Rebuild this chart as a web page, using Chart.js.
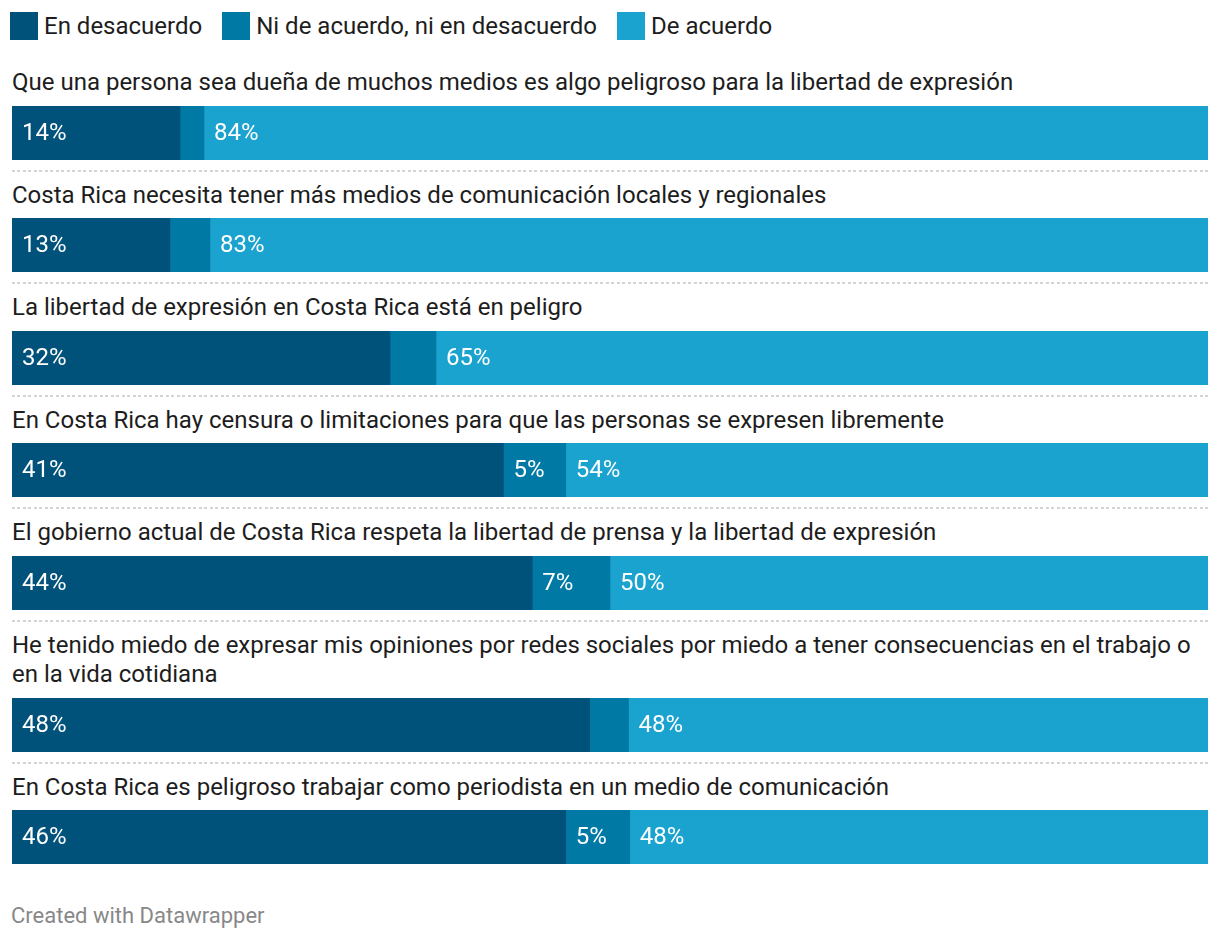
<!DOCTYPE html>
<html>
<head>
<meta charset="utf-8">
<script src="https://cdn.jsdelivr.net/npm/chart.js@4.4.1/dist/chart.umd.min.js"></script>
<style>
  html, body { margin: 0; padding: 0; background: #fff; }
  body { width: 1220px; height: 942px; font-family: Roboto, "Noto Sans", sans-serif; color: #1d1d1d; position: relative; overflow: hidden; }
  #legend { position: absolute; left: 10px; top: 12px; display: flex; align-items: center; font-size: 24px; line-height: 28px; }
  .lg { display: flex; align-items: center; margin-right: 20px; }
  .sw { width: 28px; height: 28px; margin-right: 6px; }
  #rows { position: absolute; left: 12px; top: 68px; width: 1196px; }
  .label { font-size: 24px; line-height: 29.5px; margin-bottom: 8px; white-space: normal; }
  .bar { width: 1196px; height: 54px; position: relative; }
  .sep { margin-top: 10px; height: 2px; margin-bottom: 9px; background: repeating-linear-gradient(to right, #d4d4d4 0 3px, transparent 3px 5.5px); }
  #footer { position: absolute; left: 11px; top: 903px; font-size: 22px; color: #888; }
</style>
</head>
<body>
<div id="legend"></div>
<div id="rows"></div>
<div id="footer">Created with Datawrapper</div>
<script>
const categories = [
  "Que una persona sea dueña de muchos medios es algo peligroso para la libertad de expresión",
  "Costa Rica necesita tener más medios de comunicación locales y regionales",
  "La libertad de expresión en Costa Rica está en peligro",
  "En Costa Rica hay censura o limitaciones para que las personas se expresen libremente",
  "El gobierno actual de Costa Rica respeta la libertad de prensa y la libertad de expresión",
  "He tenido miedo de expresar mis opiniones por redes sociales por miedo a tener consecuencias en el trabajo o en la vida cotidiana",
  "En Costa Rica es peligroso trabajar como periodista en un medio de comunicación"
];
const seriesNames = ["En desacuerdo", "Ni de acuerdo, ni en desacuerdo", "De acuerdo"];
const enDesacuerdo = [14.05, 13.2, 31.6, 41.1, 43.5, 48.3, 46.3];
const niNi        = [2.0, 3.35, 3.85, 5.2, 6.5, 3.25, 5.35];
const deAcuerdo   = [83.95, 83.45, 64.55, 53.7, 50.0, 48.45, 48.35];
const colors = ["#00527a", "#0079a4", "#1aa3cf"];
const series = [enDesacuerdo, niNi, deAcuerdo];

// Legend
const lg = document.getElementById('legend');
seriesNames.forEach((n, i) => {
  const d = document.createElement('div'); d.className = 'lg';
  d.innerHTML = '<div class="sw" style="background:' + colors[i] + '"></div><span>' + n + '</span>';
  lg.appendChild(d);
});

const labelPlugin = {
  id: 'valueLabels',
  afterDatasetsDraw(chart) {
    const ctx = chart.ctx;
    ctx.save();
    ctx.font = '24px Roboto, "Noto Sans", sans-serif';
    ctx.fillStyle = '#ffffff';
    ctx.textBaseline = 'middle';
    chart.data.datasets.forEach((ds, di) => {
      const meta = chart.getDatasetMeta(di);
      meta.data.forEach((el, j) => {
        const v = ds.data[j];
        if (v < 4.5) return;
        const left = Math.min(el.base, el.x);
        ctx.fillText(Math.round(v) + '%', left + 10, el.y + 1);
      });
    });
    ctx.restore();
  }
};

const rows = document.getElementById('rows');
categories.forEach((cat, i) => {
  const lab = document.createElement('div'); lab.className = 'label'; lab.textContent = cat;
  rows.appendChild(lab);
  const wrap = document.createElement('div'); wrap.className = 'bar';
  const cv = document.createElement('canvas');
  wrap.appendChild(cv); rows.appendChild(wrap);
  if (i < categories.length - 1) {
    const s = document.createElement('div'); s.className = 'sep'; rows.appendChild(s);
  }
  new Chart(cv, {
    type: 'bar',
    data: {
      labels: [cat],
      datasets: series.map((arr, k) => ({
        label: seriesNames[k],
        data: [arr[i]],
        backgroundColor: colors[k],
        borderWidth: 0,
        barPercentage: 1,
        categoryPercentage: 1
      }))
    },
    options: {
      indexAxis: 'y',
      responsive: true,
      maintainAspectRatio: false,
      animation: false,
      layout: { padding: 0 },
      plugins: { legend: { display: false }, tooltip: { enabled: false } },
      scales: {
        x: { stacked: true, min: 0, max: 100, display: false },
        y: { stacked: true, display: false }
      }
    },
    plugins: [labelPlugin]
  });
});
</script>
</body>
</html>
